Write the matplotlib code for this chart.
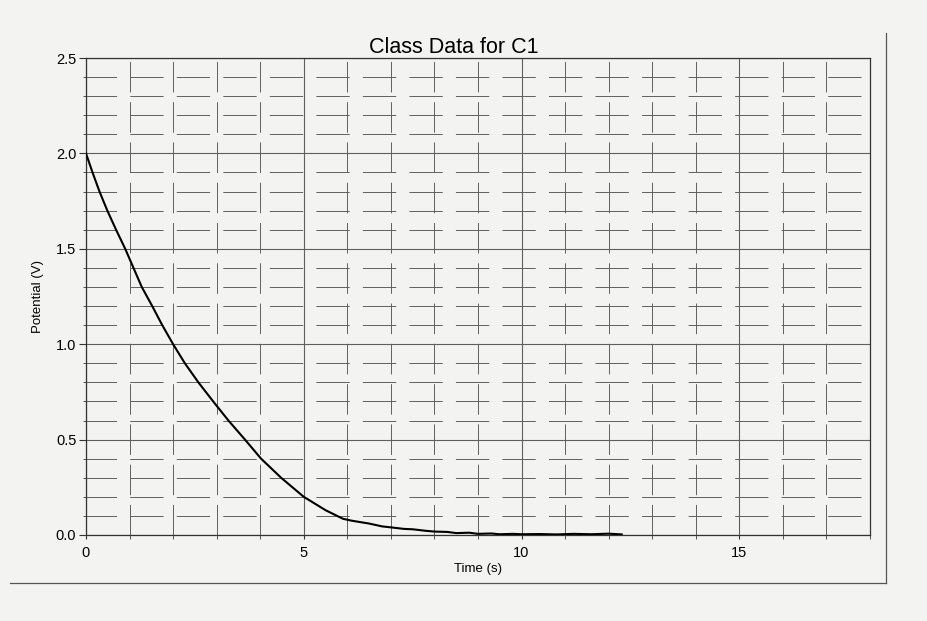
import matplotlib
matplotlib.use("Agg")
import matplotlib.pyplot as plt
from matplotlib.lines import Line2D
from matplotlib.ticker import MultipleLocator

plt.rcParams['font.family'] = ['Liberation Sans', 'DejaVu Sans']
plt.rcParams['lines.scale_dashes'] = False

# Data
time_s = [0.0, 0.15, 0.31, 0.49, 0.69, 0.90, 1.09, 1.28, 1.52, 1.75, 2.00,
          2.27, 2.58, 2.92, 3.27, 3.65, 4.02, 4.48, 5.00, 5.50, 5.90, 6.10,
          6.50, 6.80, 7.00, 7.30, 7.50, 7.80, 8.00, 8.30, 8.50, 8.80, 9.00,
          9.30, 9.50, 9.80, 10.00, 10.40, 10.80, 11.20, 11.60, 12.00, 12.30]
potential_v = [2.00, 1.90, 1.80, 1.70, 1.60, 1.50, 1.40, 1.30, 1.20, 1.10, 1.00,
               0.90, 0.80, 0.70, 0.60, 0.50, 0.40, 0.30, 0.20, 0.13, 0.085, 0.075,
               0.060, 0.045, 0.040, 0.032, 0.030, 0.022, 0.018, 0.016, 0.010, 0.012, 0.006,
               0.008, 0.004, 0.006, 0.004, 0.005, 0.003, 0.006, 0.004, 0.007, 0.003]

title = "Class Data for C1"
x_label = "Time (s)"
y_label = "Potential (V)"
x_range = (0, 18)
y_range = (0, 2.5)

paper = '#f3f3f1'
grid_col = '#606060'

fig = plt.figure(figsize=(9.28, 6.21), dpi=100, facecolor=paper)
ax = fig.add_axes([86/928, 1-535/621, 784/928, 477/621])
ax.set_facecolor(paper)

ax.set_xlim(*x_range)
ax.set_ylim(*y_range)
ax.xaxis.set_major_locator(MultipleLocator(5))
ax.xaxis.set_minor_locator(MultipleLocator(1))
ax.yaxis.set_major_locator(MultipleLocator(0.5))
ax.yaxis.set_minor_locator(MultipleLocator(0.1))
ax.yaxis.set_major_formatter(matplotlib.ticker.FormatStrFormatter('%.1f'))

ax.grid(which='major', color=grid_col, linewidth=0.8, linestyle='-')
ax.grid(which='minor', axis='x', color=grid_col, linewidth=0.7,
        linestyle=(0, (22, 7)))
ax.grid(which='minor', axis='y', color=grid_col, linewidth=0.7,
        linestyle=(2, (24, 9.5)))
ax.set_axisbelow(True)

ax.plot(time_s, potential_v, color='black', linewidth=1.5, zorder=3)

for s in ax.spines.values():
    s.set_color('#333333')
    s.set_linewidth(0.9)

ax.tick_params(which='major', axis='y', length=5, width=0.8, color='#333333',
               labelsize=10.5, pad=2)
ax.tick_params(which='minor', axis='y', length=2, width=0.7, color='#555555')
ax.tick_params(which='major', axis='x', length=3, width=0.8, color='#333333',
               labelsize=10.5, pad=5)
ax.tick_params(which='minor', axis='x', length=3, width=0.7, color='#555555')

ax.set_xlabel(x_label, fontsize=9.5)
ax.xaxis.set_label_coords(0.5, -0.058)
ax.set_ylabel(y_label, fontsize=9.5)
ax.yaxis.set_label_coords(-0.054, 0.50)

fig.text(454/928, 1-53/621, title, fontsize=15.5, ha='center', va='baseline')

# outer frame lines from the scanned page
fig.add_artist(Line2D([886/928, 886/928], [1-33/621, 1-583/621],
                      transform=fig.transFigure, color='#555555', linewidth=0.9))
fig.add_artist(Line2D([10/928, 886/928], [1-583/621, 1-583/621],
                      transform=fig.transFigure, color='#555555', linewidth=0.9))

fig.savefig('out.png', dpi=100, facecolor=paper)
